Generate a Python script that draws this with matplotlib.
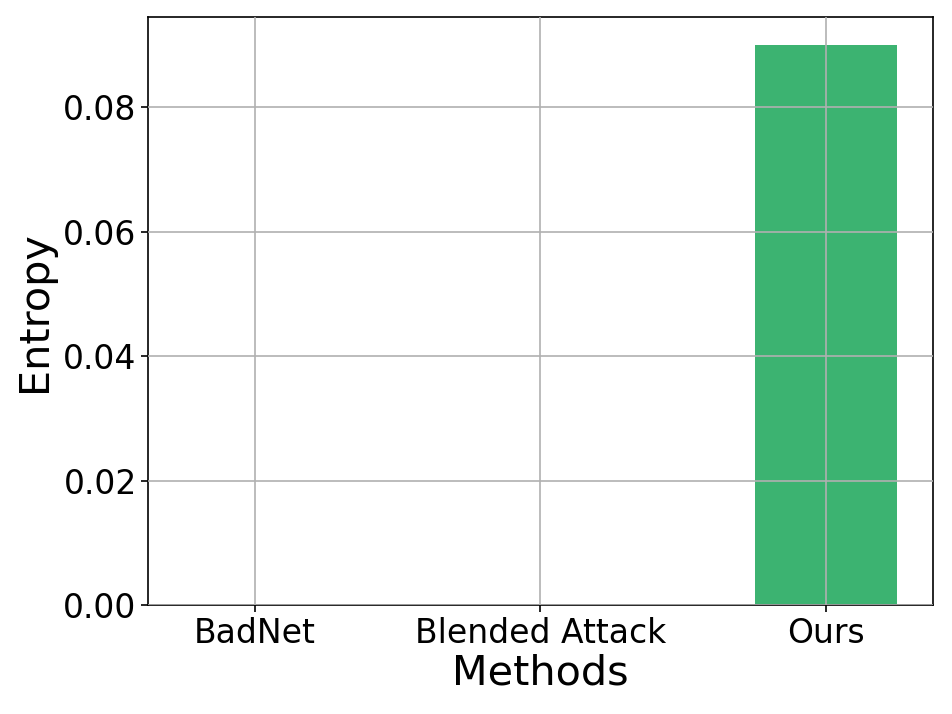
import matplotlib
matplotlib.use("Agg")
import matplotlib.pyplot as plt

methods = ["BadNet", "Blended Attack", "Ours"]
entropy = [0.0, 0.0, 0.09]

fig, ax = plt.subplots(figsize=(6.4, 4.8), dpi=148.75)
ax.bar(methods, entropy, width=0.5, color="mediumseagreen")
ax.set_axisbelow(False)
ax.grid(True, color="#b0b0b0", linewidth=0.8)
ax.set_xlabel("Methods", fontsize=20, labelpad=2)
ax.set_ylabel("Entropy", fontsize=20, labelpad=4)
ax.tick_params(axis="both", labelsize=16, pad=2)
fig.subplots_adjust(left=0.1555, right=0.98, top=0.976, bottom=0.152)
fig.savefig("out.png", dpi=148.75)
